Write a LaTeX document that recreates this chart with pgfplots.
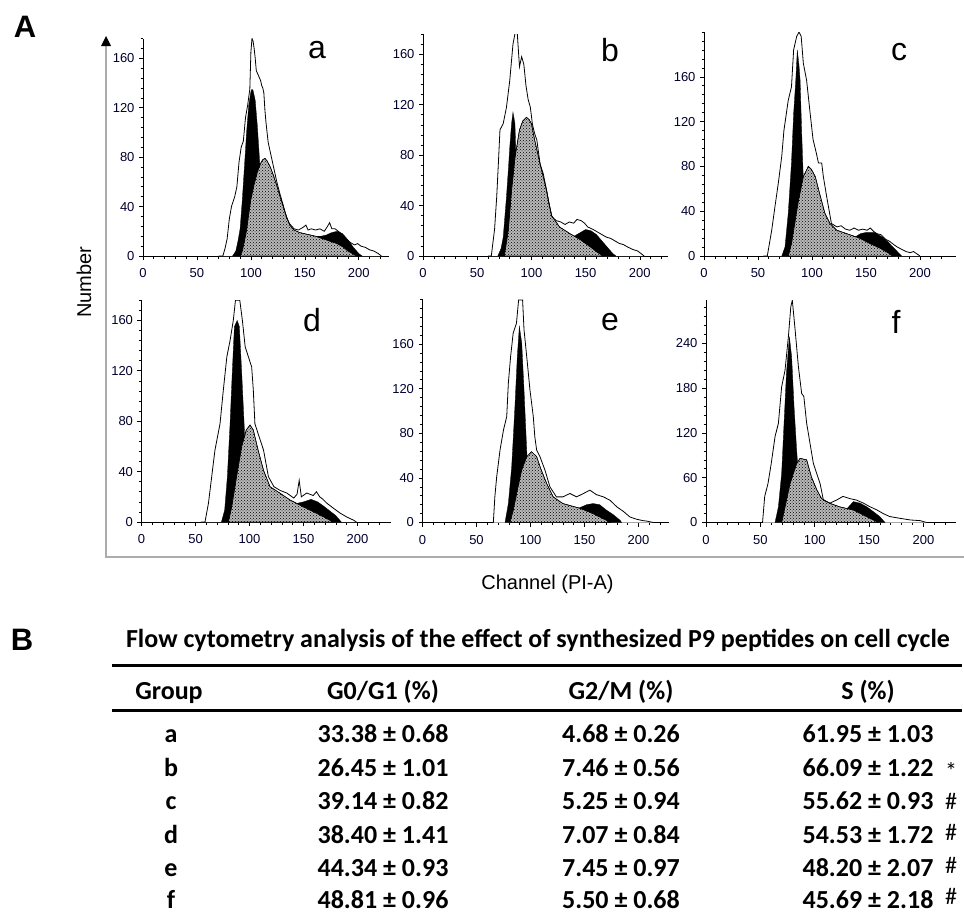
\documentclass[border=0pt]{standalone}
\usepackage{fontspec}
\setmainfont{Liberation Sans}
\newfontfamily\calibri{Carlito}
\usepackage{pgfplots}
\pgfplotsset{compat=1.18}
\usetikzlibrary{patterns}

\pgfplotsset{
 hist/.style={
   scale only axis, anchor=south west, xmin=0, ymin=0,
   axis lines=left, axis line style={-, line width=0.8pt, black},
   xtick={0,50,...,200}, minor xtick={10,20,...,220},
   tick align=outside, major tick length=4pt, minor tick length=2.5pt,
   every tick/.style={black, line width=0.6pt},
   tick label style={font=\fontsize{13}{15}\selectfont, text=black!80!blue!90!black},
   /pgf/number format/assume math mode=true,
   x tick label style={yshift=-5pt},
   y tick label style={xshift=-1pt},
 },
 env/.style={fill=white, draw=none, no marks},
 envl/.style={draw=black, line width=0.8pt, no marks},
 blk/.style={fill=black, draw=black, line width=0.3pt, no marks},
 sph/.style={fill=gray!55, draw=black, line width=0.5pt, no marks,
   postaction={pattern=crosshatch dots, pattern color=black}},
}
\newcommand{\hist}[4]{%
 \addplot[env] coordinates {#1} \closedcycle;
 \addplot[blk] coordinates {#2} \closedcycle;
 \addplot[blk] coordinates {#3} \closedcycle;
 \addplot[sph] coordinates {#4} \closedcycle;
 \addplot[envl] coordinates {#1};
}

\begin{document}
\begin{tikzpicture}
\path[use as bounding box] (0pt,0pt) rectangle (964pt,-913pt);

% outer frame
\draw[line width=2.5pt, gray!65] (106pt,-557pt) -- (106pt,-44pt);
\fill[black] (106pt,-36pt) -- (101pt,-46pt) -- (111pt,-46pt) -- cycle;
\draw[line width=2.5pt, gray!65] (104.75pt,-557pt) -- (964pt,-557pt);
\node[font=\fontsize{31}{34}\selectfont\bfseries] at (25pt,-27pt) {A};
\node[font=\fontsize{31}{34}\selectfont\bfseries] at (22pt,-640pt) {B};
\node[font=\fontsize{20}{22}\selectfont, rotate=90] at (84pt,-282pt) {Number};
\node[font=\fontsize{20}{22}\selectfont] at (547.5pt,-584pt) {Channel (PI-A)};

% panel a
\begin{axis}[hist, at={(143pt,-256pt)}, width=246pt, height=217.5pt, xmax=228, ymax=176,
  ytick={0,40,...,160}, minor ytick={8,16,...,176}]
\hist{(70,0)(74,0)(76,6)(78,14)(80,30)(82,40)(85,48)(87,56)(89,76)(91,88)(93,93)(95,112)(97,122)(99,135)(100,165)(101,176)(102,174)(103,168)(104,160)(105,150)(107,146)(109,142)(110,138)(111,136)(112,132)(113,118)(114,108)(116,92)(118,84)(120,76)(122,68)(124,60)(127,50)(130,41)(133,31)(136,26)(140,22)(144,21)(148,23)(151,25)(153,21)(156,22)(160,21)(164,22)(168,20)(171,24)(173,27)(175,22)(178,22)(181,20)(184,18)(188,14)(192,11)(196,9)(199,10)(202,8)(206,7)(210,5)(214,4)(218,2)(221,0)}
{(158,0)(158,16)(165,16)(170,17)(175,19)(180,20)(185,18)(190,13)(195,7)(200,2)(203,0)}
{(83,0)(86,4)(88,12)(90,22)(92,45)(94,72)(96,100)(98,122)(100,133)(101,135)(102,134)(104,126)(106,105)(108,78)(110,50)(112,25)(114,8)(116,0)}
{(90,0)(92,4)(94,12)(96,21)(98,34)(100,46)(103,58)(106,68)(109,75)(111,78)(113,79)(115,77)(118,72)(121,65)(124,57)(127,48)(130,40)(133,32)(136,25)(140,21)(145,19)(150,18)(160,16)(170,13)(180,10)(186,7)(190,4)(195,1.5)(199,0)}
\end{axis}

% panel b
\begin{axis}[hist, at={(423pt,-256pt)}, width=245pt, height=222pt, xmax=226, ymax=176,
  ytick={0,40,...,160}, minor ytick={8,16,...,176}]
\hist{(60,0)(63,0)(66,21)(68,47)(69.5,73)(71,100)(74,105)(77,118)(80,139)(83,168)(85,177)(87,176)(89,150)(91,158)(93,152)(95,135)(97,124)(99,118)(101,104)(103,97)(105,92)(108,73)(111,65)(114,52)(116,42)(119,31)(123,28)(127,27)(131,25)(135,27)(139,26)(142,29)(146,28)(149,26)(152,23)(157,21)(161,19)(165,17)(169,15)(173,14)(177,12)(181,10)(185,9)(189,7)(194,5)(198,4)(201,2)(204,0)}
{(138,0)(138,15)(142,17)(146,19)(150,21)(155,20)(160,17)(165,12)(170,7)(175,2)(178,0)}
{(69,0)(72,6)(74,15)(77,47)(79,72)(80,86)(81.7,105)(83,114)(84.8,105)(86,73)(87,52)(88,34)(89.4,7)(91,0)}
{(75,0)(78.6,20)(81.7,52)(85,79)(89,100)(92,107)(95.5,110)(98,108)(100,105)(103,92)(108,73)(114,52)(118.6,32)(126,23)(135,18)(145,13)(154,7.5)(160,3.5)(166,0)}
\end{axis}

% panel c
\begin{axis}[hist, at={(704pt,-256pt)}, width=251.6pt, height=224pt, xmax=233, ymax=200,
  ytick={0,40,...,160}, minor ytick={8,16,...,200}]
\hist{(55,0)(58.6,0)(62.7,23)(65.7,44)(68.8,65)(72,89)(74,112)(78,139)(81,151)(83,184)(85.8,196)(88,200)(90,196)(92,172)(95,157)(98,130)(101,104)(104,92)(106,83)(109,83)(110.5,71)(113.6,53)(118,29)(123,26)(127,27)(131,24)(135,23)(139,25)(143,23)(147,24)(151,23)(154,25)(157,22)(160,20)(164,19)(168,15)(172,13)(176,10)(179,8)(183,6)(187,4)(191,3)(194,4)(197,2)(200,0)}
{(140,0)(140,17)(145,20)(150,21)(158,21)(165,17)(170,13)(175,8)(180,3)(183,0)}
{(72,0)(75,8)(78,38)(81,83)(83,127)(85,157)(86.4,184)(88,170)(89,157)(90.4,112)(92,68)(93.5,35)(95,11)(96.6,0)}
{(78,0)(81,11)(84,29)(87,47)(92,71)(96.6,80)(99.7,77)(103,71)(107,56)(112,38)(116.7,29)(123,23)(132,20)(144,16)(154,11)(163,7)(172,2)(175,0)}
\end{axis}

% panel d
\begin{axis}[hist, at={(141.5pt,-522pt)}, width=249.5pt, height=221.8pt, xmax=231, ymax=176,
  ytick={0,40,...,160}, minor ytick={8,16,...,176}]
\hist{(55,0)(58.8,0)(62,15)(65,36)(68,57)(72.7,78)(75.8,105)(79,131)(82,144)(85,160)(87,176)(91,176)(93.4,160)(96,139)(99,131)(102,123)(103.5,105)(105,78)(108,70)(113,57)(117.5,36)(122.6,28)(128.5,25)(134.5,23)(141,19)(144,22)(146,33)(148,20)(153,23)(156,22)(159,21)(162,24)(165,20)(168,18)(171.5,15)(177.6,11)(184,7)(190,4)(196,1.6)(199,0)}
{(140,0)(140,14)(150,16)(157,18)(163,16)(168,13)(174,9)(180,5)(185,0)}
{(74,0)(77,9.5)(79.5,36)(82,78)(84,118)(86,155)(88.6,160)(90.6,155)(92.8,118)(95,78)(96.8,44)(99,20)(101,0)}
{(80.4,0)(83.5,12)(88,36)(92.8,60)(97,73)(100.5,77)(103.5,73)(108,57)(113,41)(119,28)(128,23)(137.5,17.5)(150,12)(162,7)(171,3)(177.6,0)}
\end{axis}

% panel e
\begin{axis}[hist, at={(422.5pt,-522.5pt)}, width=246.2pt, height=223pt, xmax=228, ymax=200,
  ytick={0,40,...,160}, minor ytick={8,16,...,200}]
\hist{(62,0)(65.6,0)(67,23)(68.7,41)(71.8,65)(75,83)(78,95)(79.5,125)(81.6,149)(84,170)(87,178.6)(89,199.5)(92.7,199.5)(94,173)(96.5,149)(99.5,119)(102.6,95)(104,77)(105.7,65)(108.8,59)(113.4,47)(118,32)(124,23)(130,23)(136.5,26)(142.7,23)(149,26)(155,29)(161,25)(167.5,23)(173.6,20)(180,14)(186,10)(192,5)(198,3)(204.5,1.6)(207.5,1.3)(213.7,0)}
{(145,0)(145,13)(152,16)(158,17)(164,16)(170.5,11)(176.7,7)(183,2)(184.4,0)}
{(76.4,0)(79.5,17)(82.6,50)(85.6,104)(87.8,149)(89.7,176)(91.9,161)(94,119)(96.5,65)(99,23)(101,0)}
{(81,0)(84,11)(87.8,29)(91.8,47)(96.5,59)(101,63.5)(105.7,59)(110,47)(115,35)(121,23)(130,17)(146,12.7)(158,8)(170.5,2)(173.6,0)}
\end{axis}

% panel f
\begin{axis}[hist, at={(706pt,-522.5pt)}, width=250pt, height=222.3pt, xmax=230, ymax=298,
  ytick={0,60,...,240}, minor ytick={12,24,...,288}]
\hist{(50,0)(52,0)(54,35)(57,52)(60,79)(63.5,115)(66.6,133)(69.6,182)(72.7,204)(75.8,249)(78,289)(79.4,298)(82,258)(85,209)(88,173)(90,169)(92.6,133)(95.7,106)(98.8,79)(105,52)(108,30)(114,26)(120,30)(126,35)(132.5,32)(138.6,30)(144.8,26)(151,21)(157,17)(163,12)(169,8)(178.5,5.6)(188,3.4)(197,2.5)(203,0)}
{(130,0)(130,19)(135.6,28)(141.7,26)(148,21)(154,14.5)(160,7.8)(164.7,0)}
{(63.5,0)(66.6,21)(69.6,66)(71.8,133)(74,200)(76.7,249)(78.8,222)(81,155)(83.4,97)(86,43.5)(88,0)}
{(69.6,0)(72.7,21)(77.3,52)(83.4,79)(86.5,86)(92.6,84)(97,61)(102,43.6)(106.4,32)(114,25.7)(123,21)(135.6,16.7)(145,10)(154,3.4)(158.6,0)}
\end{axis}

% panel letters
\begin{scope}[every node/.style={font=\fontsize{32}{36}\selectfont}]
\node at (317pt,-50pt) {a};
\node at (610pt,-50pt) {b};
\node at (899pt,-52pt) {c};
\node at (312pt,-320pt) {d};
\node at (610pt,-322pt) {e};
\node at (896pt,-322pt) {f};
\end{scope}

% table
\begin{scope}[every node/.style={font=\calibri\bfseries\fontsize{26}{30}\selectfont, inner sep=0pt, anchor=base}]
\node at (538pt,-647.5pt) {Flow cytometry analysis of the effect of synthesized P9 peptides on cell cycle};
\draw[line width=2.5pt] (112pt,-665.5pt) -- (962pt,-665.5pt);
\draw[line width=2.5pt] (112pt,-710.7pt) -- (962pt,-710.7pt);
\node at (169pt,-699pt) {Group};
\node at (383pt,-699pt) {G0/G1 (\%)};
\node at (621pt,-699pt) {G2/M (\%)};
\node at (868pt,-699pt) {S (\%)};
\node at (171pt,-742pt) {a}; \node at (383pt,-742pt) {33.38 ± 0.68}; \node at (621pt,-742pt) {4.68 ± 0.26}; \node at (868pt,-742pt) {61.95 ± 1.03};
\node at (171pt,-776pt) {b}; \node at (383pt,-776pt) {26.45 ± 1.01}; \node at (621pt,-776pt) {7.46 ± 0.56}; \node at (868pt,-776pt) {66.09 ± 1.22};
\node at (171pt,-809.5pt) {c}; \node at (383pt,-809.5pt) {39.14 ± 0.82}; \node at (621pt,-809.5pt) {5.25 ± 0.94}; \node at (868pt,-809.5pt) {55.62 ± 0.93};
\node at (171pt,-843pt) {d}; \node at (383pt,-843pt) {38.40 ± 1.41}; \node at (621pt,-843pt) {7.07 ± 0.84}; \node at (868pt,-843pt) {54.53 ± 1.72};
\node at (171pt,-876.5pt) {e}; \node at (383pt,-876.5pt) {44.34 ± 0.93}; \node at (621pt,-876.5pt) {7.45 ± 0.97}; \node at (868pt,-876.5pt) {48.20 ± 2.07};
\node at (171pt,-908pt) {f}; \node at (383pt,-908pt) {48.81 ± 0.96}; \node at (621pt,-908pt) {5.50 ± 0.68}; \node at (868pt,-908pt) {45.69 ± 2.18};
\end{scope}
\begin{scope}[every node/.style={font=\calibri\fontsize{24}{28}\selectfont, inner sep=0pt, anchor=base}]
\node at (951pt,-779pt) {*};
\node at (951pt,-809.5pt) {\#};
\node at (951pt,-840pt) {\#};
\node at (951pt,-873pt) {\#};
\node at (951pt,-904pt) {\#};
\end{scope}
\end{tikzpicture}
\end{document}
